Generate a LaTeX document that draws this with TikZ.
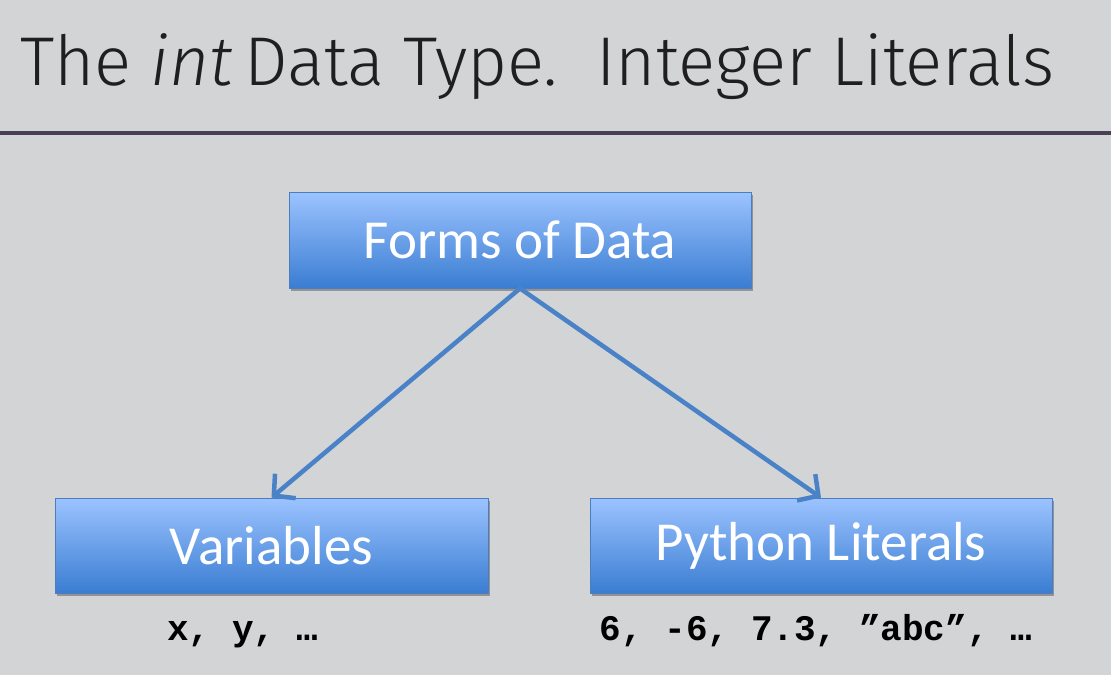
\documentclass[tikz,border=0pt]{standalone}
\usepackage{fontspec}
\setmainfont{Carlito}
\newfontfamily\titlefont{Fira Sans Light}
\newfontfamily\monofont{Liberation Mono}
\usetikzlibrary{shadows,arrows.meta}
\definecolor{bg}{HTML}{D3D4D6}
\definecolor{rulec}{HTML}{4B3F57}
\definecolor{boxtop}{HTML}{9CC3FF}
\definecolor{boxbot}{HTML}{3A7DD2}
\definecolor{boxline}{HTML}{4A7EBF}
\definecolor{arrowc}{HTML}{4A82C8}
\tikzset{
  bluebox/.style={draw=boxline, line width=0.8pt, top color=boxtop, bottom color=boxbot,
    text=white, font=\fontsize{55}{60}\selectfont, inner sep=0pt,
    drop shadow={shadow xshift=2pt, shadow yshift=-3pt, fill=black, opacity=0.3}},
  conn/.style={draw=arrowc, line cap=round,
    -{Straight Barb[length=15pt,width=32pt]}},
  codelabel/.style={font=\monofont\bfseries\fontsize{36}{38}\selectfont, anchor=base, text=black}
}
\begin{document}
\begin{tikzpicture}[x=1pt,y=-1pt]
\fill[bg] (0,0) rectangle (1111,675);
\useasboundingbox (0,0) rectangle (1111,675);
\node[anchor=base west, inner sep=0pt, text=black!88, font=\titlefont\fontsize{69}{72}\selectfont] (title) at (20,85)
  {The \textit{int}\,Data Type.\ \ Integer Literals};
\fill[rulec] (0,131) rectangle (1111,135);
\node[bluebox, minimum width=462pt, minimum height=96pt] (top) at (520,240) {Forms of Data};
\node[bluebox, minimum width=433pt, minimum height=95pt] (var) at (271.5,545.5) {Variables};
\node[bluebox, minimum width=462pt, minimum height=95pt] (lit) at (821,545.5) {Python Literals};
\draw[conn, line width=4.5pt] (top.south) -- (var.north);
\draw[conn, line width=4.5pt] (top.south) -- (lit.north);
\node[codelabel] (varex) at (243,640) {x, y, …};
\node[codelabel] (litex) at (816,640) {6, -6, 7.3, ”abc”, …};
\end{tikzpicture}
\end{document}
